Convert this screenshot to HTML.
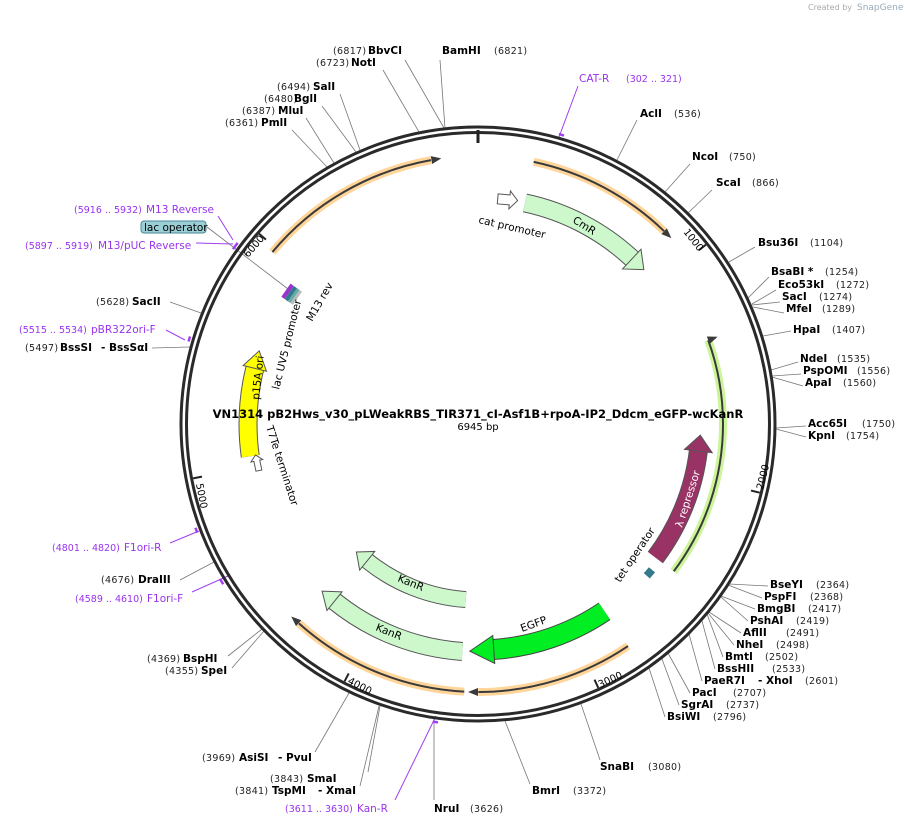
<!DOCTYPE html>
<html><head><meta charset="utf-8"><style>
html,body{margin:0;padding:0;background:#fff}
svg{display:block}
text{font-family:"DejaVu Sans","Liberation Sans",sans-serif}
.n{font-size:10.5px;font-weight:bold;fill:#000}
.p{font-size:9.5px;fill:#222;letter-spacing:0.3px}
.pu{font-size:10.5px;fill:#9933ee}
.pp{font-size:9.5px;fill:#9933ee}
.f{font-size:10.5px;fill:#000}
.ln{stroke:#777;stroke-width:0.8;fill:none}
.pl{stroke:#a040f0;stroke-width:1;fill:none}
</style></head><body>
<svg width="905" height="825" viewBox="0 0 905 825" xmlns="http://www.w3.org/2000/svg">
<text x="808" y="10" style="font-size:8px;fill:#aaa">Created by</text>
<text x="857" y="10" style="font-size:9px;fill:#9ab">SnapGene</text>

<g class="ln">
<line x1="445" y1="128" x2="440" y2="60"/>
<line x1="444" y1="128" x2="405" y2="60"/>
<line x1="419" y1="132" x2="383" y2="70"/>
<line x1="360" y1="150" x2="340" y2="94"/>
<line x1="356" y1="152" x2="322" y2="106"/>
<line x1="334" y1="163" x2="306" y2="118"/>
<line x1="327" y1="167" x2="292" y2="130"/>
<line x1="617" y1="160" x2="637" y2="120"/>
<line x1="665" y1="192" x2="690" y2="164"/>
<line x1="688" y1="213" x2="712" y2="190"/>
<line x1="729" y1="262" x2="755" y2="247"/>
<line x1="748" y1="298" x2="769" y2="277"/>
<line x1="752" y1="304" x2="776" y2="290"/>
<line x1="752" y1="305" x2="780" y2="302"/>
<line x1="753" y1="307" x2="784" y2="313"/>
<line x1="763" y1="336" x2="791" y2="331"/>
<line x1="771" y1="370" x2="798" y2="362"/>
<line x1="772" y1="376" x2="801" y2="374"/>
<line x1="772" y1="377" x2="803" y2="386"/>
<line x1="776" y1="428" x2="806" y2="426"/>
<line x1="776" y1="429" x2="806" y2="437"/>
<line x1="729" y1="584" x2="768" y2="586"/>
<line x1="728" y1="585" x2="762" y2="598"/>
<line x1="721" y1="596" x2="755" y2="609"/>
<line x1="721" y1="597" x2="748" y2="621"/>
<line x1="709" y1="612" x2="741" y2="633"/>
<line x1="708" y1="613" x2="734" y2="645"/>
<line x1="707" y1="614" x2="723" y2="657"/>
<line x1="702" y1="621" x2="715" y2="669"/>
<line x1="689" y1="634" x2="702" y2="681"/>
<line x1="668" y1="653" x2="690" y2="693"/>
<line x1="662" y1="659" x2="679" y2="705"/>
<line x1="649" y1="668" x2="665" y2="717"/>
<line x1="581" y1="704" x2="600" y2="760"/>
<line x1="505" y1="721" x2="530" y2="784"/>
<line x1="434" y1="719" x2="434" y2="800"/>
<line x1="380" y1="706" x2="368" y2="772"/>
<line x1="379" y1="706" x2="360" y2="786"/>
<line x1="349" y1="693" x2="315" y2="752"/>
<line x1="262" y1="629" x2="228" y2="656"/>
<line x1="264" y1="631" x2="232" y2="668"/>
<line x1="214" y1="562" x2="180" y2="580"/>
<line x1="190" y1="347" x2="152" y2="348"/>
<line x1="201" y1="313" x2="170" y2="302"/>
<line x1="207" y1="227" x2="292" y2="292"/>
</g>
<g class="pl">
<line x1="559" y1="137" x2="578" y2="86"/>
<line x1="436" y1="716" x2="395" y2="800"/>
<line x1="228" y1="576" x2="192" y2="592"/>
<line x1="199" y1="531" x2="170" y2="543"/>
<line x1="185" y1="340" x2="166" y2="330"/>
<line x1="233" y1="244" x2="196" y2="243"/>
<line x1="233" y1="240" x2="218" y2="216"/>
</g>

<g stroke="#a040f0" stroke-width="2.5" fill="none">
<circle cx="478" cy="424" r="301" pathLength="360" stroke-dasharray="1 400" stroke-dashoffset="-15.6" transform="rotate(-90 478 424)"/>
<circle cx="478" cy="424" r="301" pathLength="360" stroke-dasharray="1 400" stroke-dashoffset="-187.7" transform="rotate(-90 478 424)"/>
<circle cx="478" cy="424" r="301" pathLength="360" stroke-dasharray="1.2 400" stroke-dashoffset="-237.9" transform="rotate(-90 478 424)"/>
<circle cx="478" cy="424" r="301" pathLength="360" stroke-dasharray="1 400" stroke-dashoffset="-248.9" transform="rotate(-90 478 424)"/>
<circle cx="478" cy="424" r="301" pathLength="360" stroke-dasharray="1 400" stroke-dashoffset="-286" transform="rotate(-90 478 424)"/>
<circle cx="478" cy="424" r="301" pathLength="360" stroke-dasharray="1.5 400" stroke-dashoffset="-305.6" transform="rotate(-90 478 424)"/>
</g>

<circle cx="478" cy="424" r="297" fill="none" stroke="#2a2a2a" stroke-width="3"/>
<circle cx="478" cy="424" r="291.5" fill="none" stroke="#2a2a2a" stroke-width="3"/>
<line x1="478" y1="130" x2="478" y2="143" stroke="#222" stroke-width="3"/>
<g stroke="#222" stroke-width="2">
<line x1="478" y1="134" x2="478" y2="143" transform="rotate(51.8 478 424)"/>
<line x1="478" y1="134" x2="478" y2="143" transform="rotate(103.7 478 424)"/>
<line x1="478" y1="134" x2="478" y2="143" transform="rotate(155.5 478 424)"/>
<line x1="478" y1="134" x2="478" y2="143" transform="rotate(207.4 478 424)"/>
<line x1="478" y1="134" x2="478" y2="143" transform="rotate(259.2 478 424)"/>
<line x1="478" y1="134" x2="478" y2="143" transform="rotate(311 478 424)"/>
</g>
<g class="f" style="font-size:10px">
<text transform="translate(683,232) rotate(51.8)">1000</text>
<text transform="translate(763,490) rotate(-76)">2000</text>
<text transform="translate(600,688) rotate(-24.5)">3000</text>
<text transform="translate(347,683) rotate(27.4)">4000</text>
<text transform="translate(196,484) rotate(79.2)">5000</text>
<text transform="translate(248,258) rotate(-49)">6000</text>
</g>

<g fill="none" transform="rotate(-90 478 424)">
<g stroke="#ffd59a" stroke-width="8">
<circle cx="478" cy="424" r="268" pathLength="360" stroke-dasharray="40 400" stroke-dashoffset="-310"/>
<circle cx="478" cy="424" r="268" pathLength="360" stroke-dasharray="32 400" stroke-dashoffset="-12"/>
<circle cx="478" cy="424" r="268" pathLength="360" stroke-dasharray="34 400" stroke-dashoffset="-146"/>
<circle cx="478" cy="424" r="268" pathLength="360" stroke-dasharray="39 400" stroke-dashoffset="-183"/>
</g>
<g stroke="#3a3a3a" stroke-width="2">
<circle cx="478" cy="424" r="268" pathLength="360" stroke-dasharray="40 400" stroke-dashoffset="-310"/>
<circle cx="478" cy="424" r="268" pathLength="360" stroke-dasharray="32 400" stroke-dashoffset="-12"/>
<circle cx="478" cy="424" r="268" pathLength="360" stroke-dasharray="34 400" stroke-dashoffset="-146"/>
<circle cx="478" cy="424" r="268" pathLength="360" stroke-dasharray="39 400" stroke-dashoffset="-183"/>
</g>
<circle cx="478" cy="424" r="245" pathLength="360" stroke="#ccf59a" stroke-width="8" stroke-dasharray="57 400" stroke-dashoffset="-70"/>
<circle cx="478" cy="424" r="245" pathLength="360" stroke="#3a3a3a" stroke-width="2" stroke-dasharray="57 400" stroke-dashoffset="-70"/>
</g>
<g fill="#3a3a3a">
<polygon points="478,152 488,156 478,160" transform="rotate(350 478 424)"/>
<polygon points="478,152 488,156 478,160" transform="rotate(44 478 424)"/>
<polygon points="478,152 488,156 478,160" transform="rotate(180 478 424)"/>
<polygon points="478,152 488,156 478,160" transform="rotate(222 478 424)"/>
<polygon points="474,179 478,169 482,179" transform="rotate(70 478 424)"/>
</g>

<g fill="none" transform="rotate(-90 478 424)">
<circle cx="478" cy="424" r="226" pathLength="360" stroke="#555" stroke-width="19" stroke-dasharray="31 400" stroke-dashoffset="-12"/>
<circle cx="478" cy="424" r="226" pathLength="360" stroke="#ccf8cc" stroke-width="17" stroke-dasharray="31 400" stroke-dashoffset="-12"/>
<circle cx="478" cy="424" r="222" pathLength="360" stroke="#555" stroke-width="19" stroke-dasharray="30 400" stroke-dashoffset="-97"/>
<circle cx="478" cy="424" r="222" pathLength="360" stroke="#993366" stroke-width="17" stroke-dasharray="30 400" stroke-dashoffset="-97"/>
<circle cx="478" cy="424" r="227" pathLength="360" stroke="#337a8c" stroke-width="8" stroke-dasharray="2 400" stroke-dashoffset="-130"/>
<circle cx="478" cy="424" r="226" pathLength="360" stroke="#444" stroke-width="21" stroke-dasharray="30 400" stroke-dashoffset="-146"/>
<circle cx="478" cy="424" r="226" pathLength="360" stroke="#00ee22" stroke-width="19" stroke-dasharray="30 400" stroke-dashoffset="-146"/>
<circle cx="478" cy="424" r="228" pathLength="360" stroke="#555" stroke-width="19" stroke-dasharray="35 400" stroke-dashoffset="-184"/>
<circle cx="478" cy="424" r="228" pathLength="360" stroke="#ccf8cc" stroke-width="17" stroke-dasharray="35 400" stroke-dashoffset="-184"/>
<circle cx="478" cy="424" r="176" pathLength="360" stroke="#555" stroke-width="17" stroke-dasharray="35 400" stroke-dashoffset="-184"/>
<circle cx="478" cy="424" r="176" pathLength="360" stroke="#ccf8cc" stroke-width="15" stroke-dasharray="35 400" stroke-dashoffset="-184"/>
<circle cx="478" cy="424" r="230" pathLength="360" stroke="#555" stroke-width="19" stroke-dasharray="22 400" stroke-dashoffset="-262"/>
<circle cx="478" cy="424" r="230" pathLength="360" stroke="#ffff00" stroke-width="17" stroke-dasharray="22 400" stroke-dashoffset="-262"/>
</g>
<polygon points="478,185 494,198 478,212" transform="rotate(43 478 424)" fill="#ccf8cc" stroke="#555"/>
<polygon points="478,188 462,202 478,216" transform="rotate(97 478 424)" fill="#993366" stroke="#555"/>
<polygon points="478,184 502,198 478,212" transform="rotate(176 478 424)" fill="#00ee22" stroke="#444"/>
<polygon points="478,184 494,196 478,208" transform="rotate(219 478 424)" fill="#ccf8cc" stroke="#555"/>
<polygon points="478,236 492,248 478,260" transform="rotate(219 478 424)" fill="#ccf8cc" stroke="#555"/>
<polygon points="478,182 496,194 478,206" transform="rotate(284 478 424)" fill="#ffff00" stroke="#555"/>
<polygon points="478,193 490,193 490,189 498,198 490,207 490,203 478,203" transform="rotate(5 478 424)" fill="#fff" stroke="#555"/>
<polygon points="478,193 488,193 488,190 494,196 488,202 488,199 478,199" transform="rotate(258 478 424) translate(0 4)" fill="#fff" stroke="#555"/>
<g transform="rotate(-55 292 292)">
<rect x="282" y="286" width="16" height="4" fill="#9933cc"/>
<rect x="282" y="290" width="16" height="4" fill="#337a8c"/>
<rect x="282" y="294" width="16" height="3" fill="#6aa"/>
<rect x="282" y="297" width="16" height="3" fill="#bbb"/>
</g>

<g class="f">
<text transform="translate(478,223) rotate(13)">cat promoter</text>
<text transform="translate(572,222) rotate(32)">CmR</text>
<text transform="translate(682,528) rotate(-72)" style="fill:#fff">λ repressor</text>
<text transform="translate(620,583) rotate(-56)">tet operator</text>
<text transform="translate(522,632) rotate(-20)">EGFP</text>
<text transform="translate(397,581) rotate(22)">KanR</text>
<text transform="translate(375,630) rotate(22)">KanR</text>
<text transform="translate(259,400) rotate(-84)">p15A ori</text>
<text transform="translate(279,390) rotate(-76)">lac UV5 promoter</text>
<text transform="translate(312,322) rotate(-60)">M13 rev</text>
<text transform="translate(266,427) rotate(72)">T7Te terminator</text>
</g>

<text x="478" y="418" text-anchor="middle" style="font-size:11.5px;font-weight:bold">VN1314 pB2Hws_v30_pLWeakRBS_TIR371_cI-Asf1B+rpoA-IP2_Ddcm_eGFP-wcKanR</text>
<text x="478" y="430" text-anchor="middle" class="f" style="font-size:10px">6945 bp</text>

<text class="p" x="333" y="54">(6817)</text><text class="n" x="368" y="54">BbvCI</text>
<text class="p" x="316" y="66">(6723)</text><text class="n" x="351" y="66">NotI</text>
<text class="n" x="442" y="54">BamHI</text><text class="p" x="494" y="54">(6821)</text>
<text class="p" x="277" y="90">(6494)</text><text class="n" x="313" y="90">SalI</text>
<text class="p" x="264" y="102">(6480)</text><text class="n" x="294" y="102">BglI</text>
<text class="p" x="242" y="114">(6387)</text><text class="n" x="278" y="114">MluI</text>
<text class="p" x="225" y="126">(6361)</text><text class="n" x="261" y="126">PmlI</text>
<text class="pu" x="579" y="82">CAT-R</text><text class="pp" x="626" y="82">(302 .. 321)</text>
<text class="n" x="640" y="117">AclI</text><text class="p" x="674" y="117">(536)</text>
<text class="n" x="692" y="160">NcoI</text><text class="p" x="729" y="160">(750)</text>
<text class="n" x="716" y="186">ScaI</text><text class="p" x="752" y="186">(866)</text>
<text class="n" x="758" y="246">Bsu36I</text><text class="p" x="810" y="246">(1104)</text>
<text class="n" x="771" y="275">BsaBI *</text><text class="p" x="825" y="275">(1254)</text>
<text class="n" x="778" y="288">Eco53kI</text><text class="p" x="836" y="288">(1272)</text>
<text class="n" x="782" y="300">SacI</text><text class="p" x="819" y="300">(1274)</text>
<text class="n" x="786" y="312">MfeI</text><text class="p" x="822" y="312">(1289)</text>
<text class="n" x="793" y="333">HpaI</text><text class="p" x="832" y="333">(1407)</text>
<text class="n" x="800" y="362">NdeI</text><text class="p" x="837" y="362">(1535)</text>
<text class="n" x="803" y="374">PspOMI</text><text class="p" x="857" y="374">(1556)</text>
<text class="n" x="805" y="386">ApaI</text><text class="p" x="843" y="386">(1560)</text>
<text class="n" x="808" y="427">Acc65I</text><text class="p" x="862" y="427">(1750)</text>
<text class="n" x="808" y="439">KpnI</text><text class="p" x="846" y="439">(1754)</text>
<text class="n" x="770" y="588">BseYI</text><text class="p" x="816" y="588">(2364)</text>
<text class="n" x="764" y="600">PspFI</text><text class="p" x="810" y="600">(2368)</text>
<text class="n" x="757" y="612">BmgBI</text><text class="p" x="808" y="612">(2417)</text>
<text class="n" x="750" y="624">PshAI</text><text class="p" x="796" y="624">(2419)</text>
<text class="n" x="743" y="636">AflII</text><text class="p" x="786" y="636">(2491)</text>
<text class="n" x="736" y="648">NheI</text><text class="p" x="776" y="648">(2498)</text>
<text class="n" x="725" y="660">BmtI</text><text class="p" x="765" y="660">(2502)</text>
<text class="n" x="717" y="672">BssHII</text><text class="p" x="772" y="672">(2533)</text>
<text class="n" x="704" y="684">PaeR7I</text><text class="n" x="758" y="684">- XhoI</text><text class="p" x="805" y="684">(2601)</text>
<text class="n" x="692" y="696">PacI</text><text class="p" x="733" y="696">(2707)</text>
<text class="n" x="681" y="708">SgrAI</text><text class="p" x="726" y="708">(2737)</text>
<text class="n" x="667" y="720">BsiWI</text><text class="p" x="713" y="720">(2796)</text>
<text class="n" x="600" y="770">SnaBI</text><text class="p" x="648" y="770">(3080)</text>
<text class="n" x="532" y="794">BmrI</text><text class="p" x="573" y="794">(3372)</text>
<text class="n" x="434" y="812">NruI</text><text class="p" x="470" y="812">(3626)</text>
<text class="p" x="202" y="761">(3969)</text><text class="n" x="239" y="761">AsiSI</text><text class="n" x="278" y="761">- PvuI</text>
<text class="p" x="270" y="782">(3843)</text><text class="n" x="307" y="782">SmaI</text>
<text class="p" x="235" y="794">(3841)</text><text class="n" x="272" y="794">TspMI</text><text class="n" x="318" y="794">- XmaI</text>
<text class="pp" x="285" y="812">(3611 .. 3630)</text><text class="pu" x="357" y="812">Kan-R</text>
<text class="p" x="147" y="662">(4369)</text><text class="n" x="183" y="662">BspHI</text>
<text class="p" x="165" y="674">(4355)</text><text class="n" x="201" y="674">SpeI</text>
<text class="p" x="101" y="583">(4676)</text><text class="n" x="138" y="583">DraIII</text>
<text class="pp" x="75" y="602">(4589 .. 4610)</text><text class="pu" x="147" y="602">F1ori-F</text>
<text class="pp" x="52" y="551">(4801 .. 4820)</text><text class="pu" x="124" y="551">F1ori-R</text>
<text class="p" x="96" y="305">(5628)</text><text class="n" x="132" y="305">SacII</text>
<text class="pp" x="19" y="333">(5515 .. 5534)</text><text class="pu" x="91" y="333">pBR322ori-F</text>
<text class="p" x="25" y="351">(5497)</text><text class="n" x="60" y="351">BssSI</text><text class="n" x="101" y="351">- BssSαI</text>
<text class="pp" x="74" y="213">(5916 .. 5932)</text><text class="pu" x="146" y="213">M13 Reverse</text>
<rect x="141" y="221" width="65" height="12" rx="3" fill="#9bcfd6" stroke="#4a8a96"/>
<text class="f" x="144" y="231">lac operator</text>
<text class="pp" x="25" y="249">(5897 .. 5919)</text><text class="pu" x="98" y="249">M13/pUC Reverse</text>
</svg>
</body></html>
